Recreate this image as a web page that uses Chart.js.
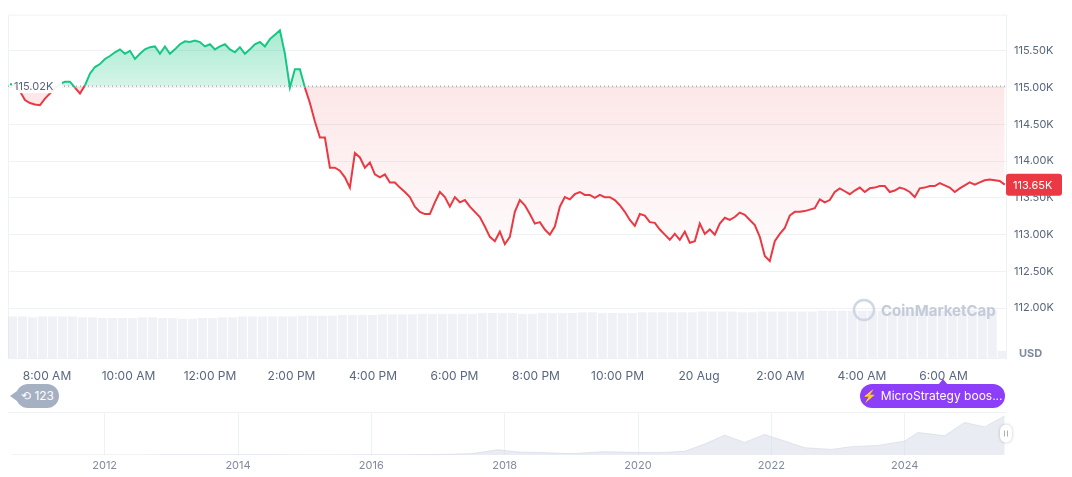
<!DOCTYPE html>
<html><head><meta charset="utf-8">
<script src="https://cdn.jsdelivr.net/npm/chart.js@4"></script>
<style>
body{margin:0;background:#fff;font-family:Inter,"Noto Sans",sans-serif;}
#wrap{position:relative;width:1072px;height:477px;overflow:hidden}
#c1{position:absolute;left:0;top:0}
#c2{position:absolute;left:0;top:405px}
.pill{position:absolute;color:#fff;font-size:12px;line-height:24px;height:24px;border-radius:12px;white-space:nowrap}
#p1{left:16px;top:384px;width:43px;background:#a6b0c3;text-align:center}
#p1:before{content:"";position:absolute;left:-6px;top:7px;border-right:7px solid #a6b0c3;border-top:5px solid transparent;border-bottom:5px solid transparent}
#p2{left:860px;top:384px;width:145px;background:#8c3ef8;text-align:center}
#p2:before{content:"";position:absolute;left:78px;top:-5px;border-bottom:6px solid #8c3ef8;border-left:5px solid transparent;border-right:5px solid transparent}
</style></head><body>
<div id="wrap">
<canvas id="c1" width="1072" height="392"></canvas>
<canvas id="c2" width="1072" height="72"></canvas>
<div class="pill" id="p1">⟲ 123</div>
<div class="pill" id="p2">⚡ MicroStrategy boos...</div>
</div>
<script>
// price in thousands USD, sampled every ~7.36 minutes starting 07:05
const startMinute = 425.5;
const stepMinutes = 7.36;
const baseline = 115.02;
const lastLabel = "113.65K";
const prices = [115.05,115.03,114.95,114.83,114.79,114.77,114.76,114.85,114.92,114.99,115.05,115.08,115.08,115.00,114.92,115.03,115.19,115.28,115.32,115.39,
115.43,115.48,115.52,115.46,115.50,115.39,115.46,115.52,115.55,115.56,115.46,115.56,115.46,115.52,115.59,115.63,115.62,115.64,115.62,115.56,
115.59,115.52,115.56,115.59,115.52,115.48,115.55,115.46,115.52,115.59,115.62,115.56,115.66,115.72,115.78,115.46,115.00,115.25,115.25,115.00,
114.79,114.54,114.32,114.32,113.91,113.91,113.87,113.78,113.64,114.11,114.05,113.91,113.98,113.82,113.78,113.82,113.71,113.71,113.64,113.58,
113.51,113.38,113.31,113.28,113.28,113.44,113.58,113.51,113.38,113.51,113.44,113.47,113.38,113.31,113.24,113.11,112.97,112.91,113.04,112.87,
112.97,113.31,113.47,113.40,113.28,113.15,113.17,113.07,113.00,113.11,113.38,113.51,113.48,113.55,113.58,113.54,113.54,113.50,113.54,113.51,
113.51,113.47,113.40,113.31,113.20,113.12,113.28,113.26,113.17,113.16,113.07,113.00,112.93,113.01,112.93,113.04,112.89,112.91,113.15,113.01,
113.07,113.00,113.15,113.23,113.20,113.24,113.30,113.27,113.20,113.13,112.97,112.71,112.64,112.91,113.01,113.09,113.26,113.31,113.31,113.32,
113.34,113.36,113.48,113.44,113.47,113.58,113.63,113.59,113.55,113.60,113.64,113.58,113.63,113.64,113.66,113.66,113.58,113.60,113.64,113.62,
113.58,113.51,113.63,113.64,113.66,113.66,113.70,113.67,113.64,113.58,113.63,113.67,113.71,113.68,113.71,113.74,113.75,113.74,113.73,113.68];
// volume (relative), one value per 2 price samples
const volumes = [58,58,57,58,58,58,58,57,57,56,56,56,56,57,57,56,56,55,55,56,56,57,57,58,58,58,58,58,58,59,59,59,59,60,60,60,60,61,61,61,
61,62,62,62,62,62,62,63,63,63,63,62,62,63,63,63,63,64,64,63,63,63,63,64,64,64,64,64,64,65,65,65,65,64,64,65,65,65,65,65,
65,66,66,66,66,66,66,66,66,66,66,67,67,66,66,67,67,67,67,10];
const xTickLabels = {480:"8:00 AM",600:"10:00 AM",720:"12:00 PM",840:"2:00 PM",960:"4:00 PM",1080:"6:00 PM",1200:"8:00 PM",1320:"10:00 PM",1440:"20 Aug",1560:"2:00 AM",1680:"4:00 AM",1800:"6:00 AM"};
const navYears = [2010.6,2011,2011.5,2012,2012.5,2013,2013.5,2014,2014.5,2015,2015.5,2016,2016.5,2017,2017.5,2017.9,2018.2,2018.6,2019,2019.5,2019.9,2020.3,2020.7,2021.0,2021.3,2021.6,2021.9,2022.2,2022.5,2022.9,2023.2,2023.6,2024.0,2024.2,2024.6,2024.9,2025.2,2025.5];
const navValues = [0,0,0,0,0,0.5,0.5,0.6,0.4,0.3,0.3,0.5,0.7,1.5,4,16,9,7,4,10,8,7,11,33,60,38,62,42,22,17,25,29,42,68,58,98,85,118];

const pricePts = prices.map((p,i)=>({x:startMinute+i*stepMinutes,y:p}));
const volPts = volumes.map((v,i)=>({x:startMinute+(i*2+0.5)*stepMinutes,y:v}));
const GREEN='#16c784', RED='#ea3943';

const overlay = {
  id:'overlay',
  beforeDatasetsDraw(ch){
    const {ctx,chartArea:a} = ch;
    ctx.save();
    ctx.strokeStyle='#eff2f5';ctx.lineWidth=1;
    ctx.strokeRect(a.left+0.5,a.top+0.5,a.right-a.left,a.bottom-a.top);
    ctx.restore();
  },
  afterDatasetsDraw(ch){
    const {ctx,chartArea:a,scales:{y}} = ch;
    const by=y.getPixelForValue(baseline);
    ctx.save();
    ctx.setLineDash([1,3]);ctx.strokeStyle='#808a9d';ctx.lineWidth=1;
    ctx.beginPath();ctx.moveTo(a.left,by);ctx.lineTo(a.right,by);ctx.stroke();
    ctx.setLineDash([]);
    ctx.font='11px Inter';ctx.textBaseline='middle';
    ctx.fillStyle='rgba(255,255,255,0.92)';ctx.fillRect(a.left+4,by-7,50,14);
    ctx.fillStyle='#58667e';ctx.fillText(baseline.toFixed(2)+'K',a.left+6,by+1);
    const ly=y.getPixelForValue(prices[prices.length-1]);
    ctx.fillStyle=RED;
    ctx.beginPath();ctx.roundRect(a.right,ly-11,56,22,3);ctx.fill();
    ctx.fillStyle='#fff';ctx.font='11px Inter';ctx.fillText(lastLabel,a.right+7,ly+1);
    ctx.fillStyle='#808a9d';ctx.font='bold 11px Inter';ctx.fillText('USD',a.right+13,a.bottom-4);
    ctx.strokeStyle='#cfd6e4';ctx.lineWidth=2.5;
    ctx.beginPath();ctx.arc(864,310,10,0,Math.PI*2);ctx.stroke();
    ctx.fillStyle='#c3cbd9';ctx.font='bold 15px Inter';ctx.fillText('CoinMarketCap',881,311);
    ctx.restore();
  }
};

const main = new Chart(document.getElementById('c1'),{
  type:'line',
  data:{datasets:[
    {type:'line',data:pricePts,yAxisID:'y',order:1,borderWidth:2,pointRadius:0,tension:0,
     borderColor:GREEN,
     segment:{borderColor:c=>((c.p0.parsed.y+c.p1.parsed.y)/2>=baseline?GREEN:RED)},
     fill:{value:baseline,above:'rgba(22,199,132,0.28)',below:'rgba(234,57,67,0.07)'}},
    {type:'bar',data:volPts,yAxisID:'v',order:2,backgroundColor:'rgba(215,221,232,0.4)',barPercentage:0.9,categoryPercentage:1}
  ]},
  options:{responsive:false,animation:false,
    layout:{padding:{left:8,top:10}},
    plugins:{legend:{display:false},tooltip:{enabled:false}},
    scales:{
      x:{type:'linear',offset:false,min:422.6,max:1892,
         afterBuildTicks(s){s.ticks=Object.keys(xTickLabels).map(v=>({value:+v}));},
         afterFit(s){s.height=34;},
         grid:{display:false,offset:false},border:{display:false},
         ticks:{autoSkip:false,maxRotation:0,color:'#58667e',font:{size:12,family:'Inter'},padding:3,callback:v=>xTickLabels[v]}},
      y:{position:'right',min:111.322,max:115.993,
         afterBuildTicks(s){s.ticks=[112,112.5,113,113.5,114,114.5,115,115.5].map(v=>({value:v}));},
         afterFit(s){s.width=66;},
         grid:{color:'#eff2f5',drawTicks:false},border:{display:false},
         ticks:{color:'#58667e',font:{size:11,family:'Inter'},padding:8,callback:v=>v.toFixed(2)+'K'}},
      v:{display:false,min:0,max:480}
    }},
  plugins:[overlay]
});
{
  const y=main.scales.y, ctx=main.ctx, by=y.getPixelForValue(baseline);
  const gA=ctx.createLinearGradient(0,y.getPixelForValue(115.8),0,by);
  gA.addColorStop(0,'rgba(22,199,132,0.38)');gA.addColorStop(1,'rgba(22,199,132,0.18)');
  const gB=ctx.createLinearGradient(0,by,0,y.getPixelForValue(112.6));
  gB.addColorStop(0,'rgba(234,57,67,0.12)');gB.addColorStop(1,'rgba(234,57,67,0.01)');
  main.data.datasets[0].fill={value:baseline,above:gA,below:gB};
  main.update('none');
}

const navPlug={id:'nav',beforeDatasetsDraw(ch){const {ctx,chartArea:a}=ch;ctx.save();ctx.strokeStyle='#eff2f5';ctx.beginPath();ctx.moveTo(a.left,a.top+0.5);ctx.lineTo(a.right,a.top+0.5);ctx.stroke();ctx.restore();},
 afterDatasetsDraw(ch){const {ctx,chartArea:a}=ch;const cy=(a.top+a.bottom)/2;ctx.save();ctx.fillStyle='#fff';ctx.shadowColor='rgba(0,0,0,0.25)';ctx.shadowBlur=3;ctx.beginPath();ctx.roundRect(a.right-6,cy-9,12,18,6);ctx.fill();ctx.shadowBlur=0;ctx.strokeStyle='#a6b0c3';ctx.beginPath();ctx.moveTo(a.right-1.5,cy-3);ctx.lineTo(a.right-1.5,cy+3);ctx.moveTo(a.right+1.5,cy-3);ctx.lineTo(a.right+1.5,cy+3);ctx.stroke();ctx.restore();}};
new Chart(document.getElementById('c2'),{
  type:'line',
  data:{datasets:[{data:navYears.map((x,i)=>({x,y:navValues[i]})),borderColor:'rgba(207,214,228,0.6)',borderWidth:1,pointRadius:0,fill:'origin',backgroundColor:'rgba(207,214,228,0.45)'}]},
  options:{responsive:false,animation:false,layout:{padding:{left:8,right:66,top:7}},
    plugins:{legend:{display:false},tooltip:{enabled:false}},
    scales:{
      x:{type:'linear',min:2010.55,max:2025.52,
         afterBuildTicks(s){s.ticks=[2012,2014,2016,2018,2020,2022,2024].map(v=>({value:v}));},
         afterFit(s){s.height=22;},
         grid:{color:'#eff2f5',drawTicks:false},border:{display:false},
         ticks:{color:'#808a9d',font:{size:11,family:'Inter'},padding:4,callback:v=>String(v)}},
      y:{display:false,min:0,max:130}
    }},
  plugins:[navPlug]
});
</script>
</body></html>
